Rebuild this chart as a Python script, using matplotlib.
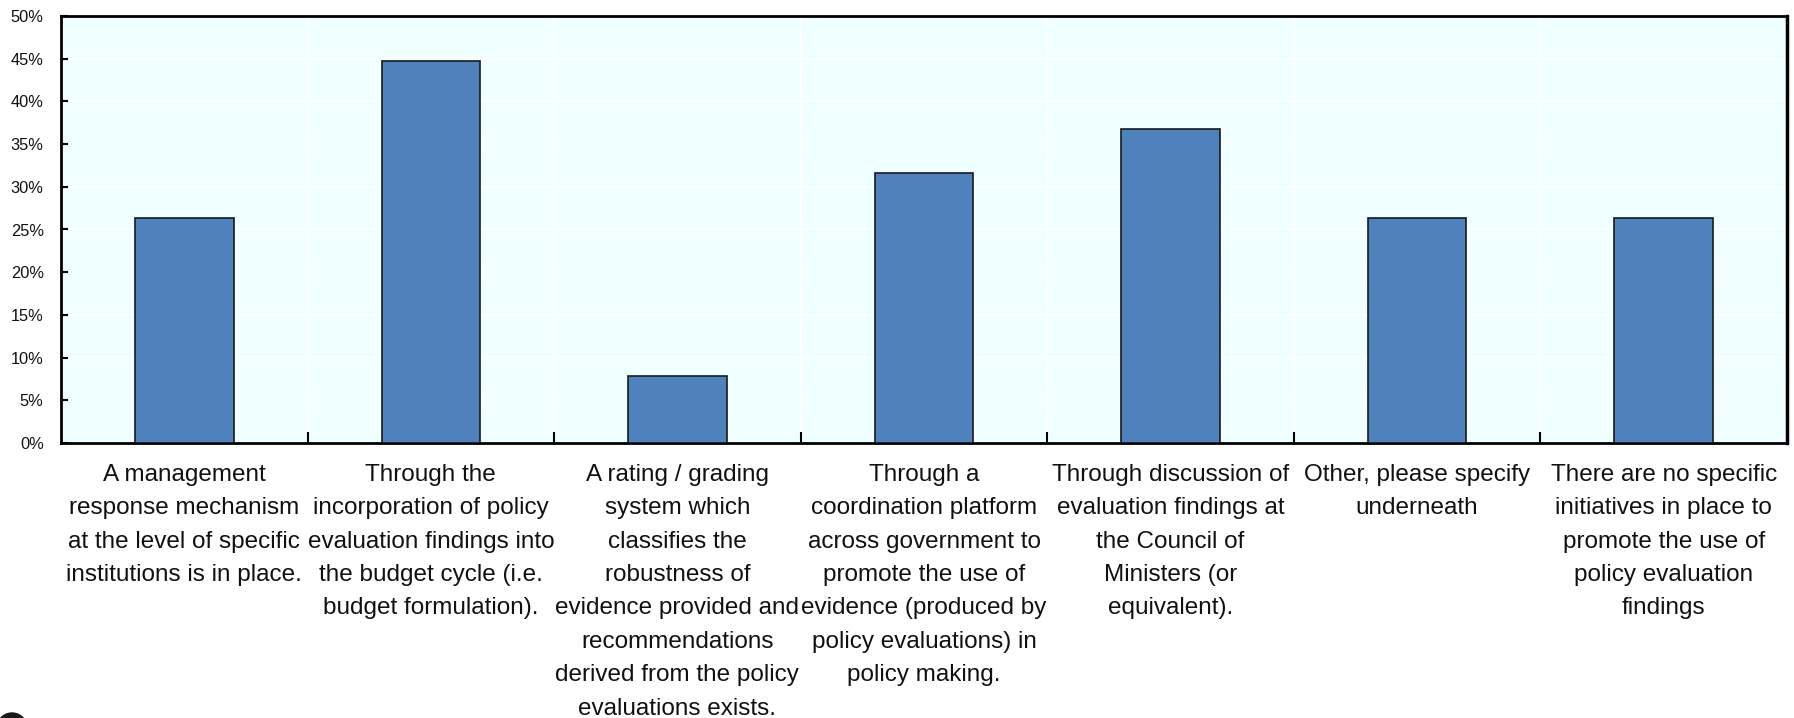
import matplotlib
matplotlib.use('Agg')
import matplotlib.pyplot as plt
import numpy as np
from matplotlib.patches import Circle

plt.rcParams['font.family'] = ['Liberation Sans', 'DejaVu Sans']

categories = [
    "A management\nresponse mechanism\nat the level of specific\ninstitutions is in place.",
    "Through the\nincorporation of policy\nevaluation findings into\nthe budget cycle (i.e.\nbudget formulation).",
    "A rating / grading\nsystem which\nclassifies the\nrobustness of\nevidence provided and\nrecommendations\nderived from the policy\nevaluations exists.",
    "Through a\ncoordination platform\nacross government to\npromote the use of\nevidence (produced by\npolicy evaluations) in\npolicy making.",
    "Through discussion of\nevaluation findings at\nthe Council of\nMinisters (or\nequivalent).",
    "Other, please specify\nunderneath",
    "There are no specific\ninitiatives in place to\npromote the use of\npolicy evaluation\nfindings",
]
values = [26.3, 44.7, 7.9, 31.6, 36.8, 26.3, 26.3]
yticks = [0, 5, 10, 15, 20, 25, 30, 35, 40, 45, 50]

fig = plt.figure(figsize=(17.94, 7.18), dpi=100)
ax = fig.add_axes([61/1794, 1 - 443/718, (1787 - 61)/1794, (443 - 16)/718])
ax.set_facecolor('#F0FFFF')

x = np.arange(len(values))
ax.bar(x, values, width=0.4, color='#4F81BD', edgecolor='#1a1a1a', linewidth=1.2, zorder=3)

ax.set_xlim(-0.5, len(values) - 0.5)
ax.set_ylim(0, 50)
ax.set_yticks(yticks)
ax.set_yticklabels([f"{v}%" for v in yticks], fontsize=11.8, color='#111111')
ax.set_xticks(x)
ax.set_xticklabels(categories, fontsize=17.5, linespacing=1.67, color='#111111')
ax.set_xticks(x[:-1] + 0.5, minor=True)

ax.tick_params(axis='y', direction='in', length=5, width=1.5, pad=12.5)
ax.tick_params(axis='x', which='major', length=0, pad=15)
ax.tick_params(axis='x', which='minor', direction='in', length=8, width=1.5)

ax.grid(axis='y', color='white', linewidth=1.3, zorder=1)
ax.grid(axis='x', which='minor', color='white', linewidth=1.3, zorder=1)
ax.set_axisbelow(True)

for s in ax.spines.values():
    s.set_color('black')
    s.set_linewidth(2)
ax.spines['right'].set_linewidth(2.5)

# partly hidden logo in the bottom-left corner
fig.patches.append(Circle((0.12, -0.10), 0.15, transform=fig.dpi_scale_trans,
                          color='#1a1a1a', clip_on=False))

fig.savefig('out.png', dpi=100)
